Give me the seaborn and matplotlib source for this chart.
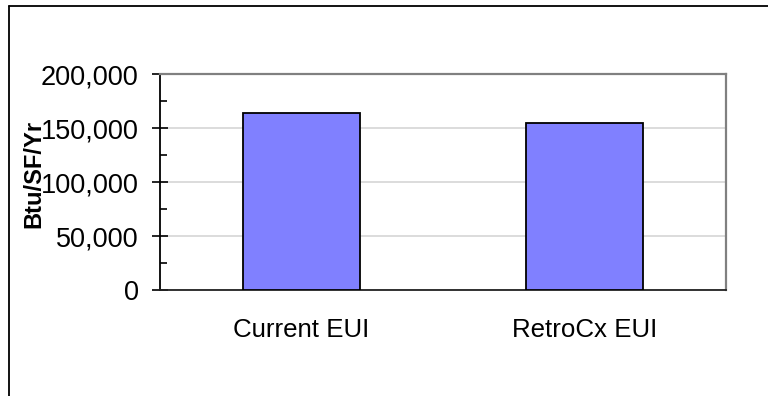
import matplotlib
matplotlib.use("Agg")
import matplotlib.pyplot as plt
from matplotlib.lines import Line2D
from matplotlib.ticker import FuncFormatter, MultipleLocator
import seaborn as sns
import pandas as pd

# EUI comparison values
categories = ["Current EUI", "RetroCx EUI"]
eui_values = [164000, 155000]
y_label = "Btu/SF/Yr"

df = pd.DataFrame({"category": categories, "eui": eui_values})

sns.set_theme(style="white")
plt.rcParams["font.family"] = ["Liberation Sans", "DejaVu Sans"]

W, H = 768, 396
fig = plt.figure(figsize=(W / 100, H / 100), dpi=100)
fig.patch.set_facecolor("white")

# plot area in pixel coordinates
left, right, top, bottom = 160, 726, 74, 290
ax = fig.add_axes([left / W, (H - bottom) / H, (right - left) / W, (bottom - top) / H])

sns.barplot(data=df, x="category", y="eui", color="#8080FF", saturation=1,
            width=0.41, edgecolor="black", linewidth=1.3, ax=ax, zorder=3)

ax.set_xlim(-0.5, 1.5)
ax.set_ylim(0, 200000)
ax.yaxis.set_major_locator(MultipleLocator(50000))
ax.yaxis.set_minor_locator(MultipleLocator(25000))
ax.yaxis.set_major_formatter(FuncFormatter(lambda v, p: f"{int(v):,}"))

# light horizontal gridlines behind the bars
ax.yaxis.grid(True, which="major", color="#d9d9d9", linewidth=1.3, zorder=0)
ax.xaxis.grid(False)
ax.set_axisbelow(True)

for side in ("top", "right"):
    ax.spines[side].set_color("#808080")
    ax.spines[side].set_linewidth(1.6)
ax.spines["left"].set_color("black")
ax.spines["left"].set_linewidth(1.3)
ax.spines["bottom"].set_color("#222222")
ax.spines["bottom"].set_linewidth(1.3)

ax.tick_params(axis="y", which="major", direction="inout", length=11.5, width=1.2,
               color="black", labelsize=19.5, pad=9.5, left=True)
ax.tick_params(axis="y", which="minor", direction="in", length=5, width=1.2,
               color="black", left=True)
ax.tick_params(axis="x", length=0, labelsize=18.6, pad=20, colors="black")
for lab in ax.get_yticklabels() + ax.get_xticklabels():
    lab.set_color("black")

ax.set_xlabel("")
ax.set_ylabel(y_label, fontsize=17, fontweight="bold", color="black")
ax.yaxis.set_label_coords((45 - left) / (right - left), (bottom - 174) / (bottom - top))

# outer chart frame
fig.add_artist(Line2D([8.5 / W, 8.5 / W], [0, 1 - 5.5 / H], transform=fig.transFigure,
                      color="black", linewidth=1.3))
fig.add_artist(Line2D([8.5 / W, 1], [1 - 5.5 / H, 1 - 5.5 / H], transform=fig.transFigure,
                      color="black", linewidth=1.3))

fig.savefig("out.png", dpi=100)
